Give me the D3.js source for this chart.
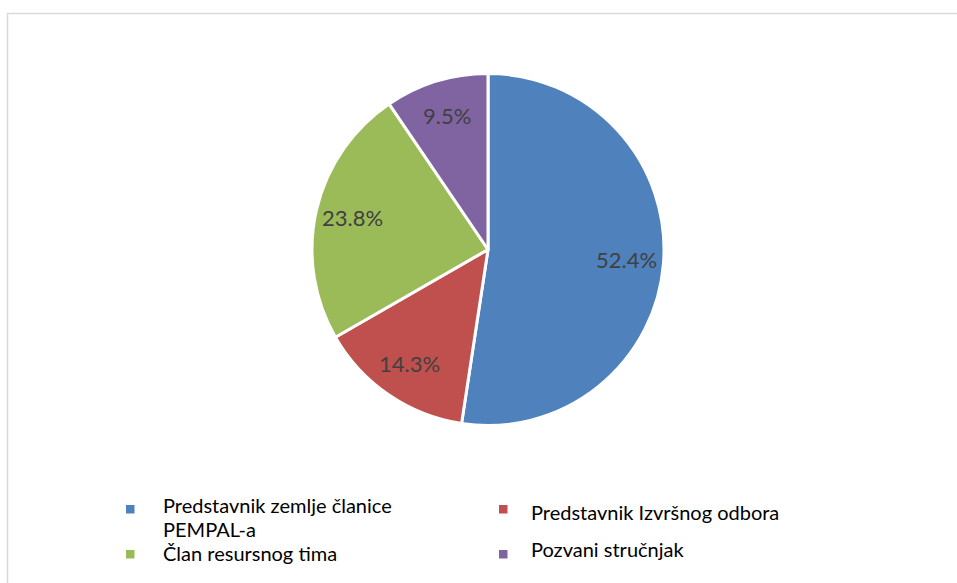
<!DOCTYPE html>
<html>
<head>
<meta charset="utf-8">
<script src="https://cdn.jsdelivr.net/npm/d3@7"></script>
<style>
  html, body { margin: 0; padding: 0; background: #fff; }
  svg { display: block; }
</style>
</head>
<body>
<svg id="chart" width="957" height="583"></svg>
<script>
// Data
const categories = [
  "Predstavnik zemlje članice PEMPAL-a",
  "Predstavnik Izvršnog odbora",
  "Član resursnog tima",
  "Pozvani stručnjak"
];
const values = [52.4, 14.3, 23.8, 9.5];
const colors = ["#4F81BD", "#C0504D", "#9BBB59", "#8064A2"];
const legendLines = [
  ["Predstavnik zemlje članice", "PEMPAL-a"],
  ["Predstavnik Izvršnog odbora"],
  ["Član resursnog tima"],
  ["Pozvani stručnjak"]
];

const svg = d3.select("#chart");
const W = 957, H = 583;

// frame
svg.append("rect")
  .attr("x", 7.5).attr("y", 13.5)
  .attr("width", W + 20).attr("height", H + 20)
  .attr("fill", "#fff")
  .attr("stroke", "#D9D9D9")
  .attr("stroke-width", 1.5);

const cx = 488, cy = 249.5, R = 176;
const g = svg.append("g").attr("transform", `translate(${cx},${cy})`);

const pie = d3.pie().sort(null).value(d => d);
const arcs = pie(values);
const arc = d3.arc().innerRadius(0).outerRadius(R);
const labelArc = d3.arc().innerRadius(139).outerRadius(139);

g.selectAll("path.slice")
  .data(arcs)
  .join("path")
  .attr("class", "slice")
  .attr("d", arc)
  .attr("fill", (d, i) => colors[i])
  .attr("stroke", "#fff")
  .attr("stroke-width", 3)
  .attr("stroke-linejoin", "round");

const fmt = d3.format(".1f");
g.selectAll("text.lbl")
  .data(arcs)
  .join("text")
  .attr("class", "lbl")
  .attr("transform", d => `translate(${labelArc.centroid(d)})`)
  .attr("text-anchor", "middle")
  .attr("dy", "0.35em")
  .attr("font-family", "Lato, 'Open Sans', sans-serif")
  .attr("font-size", 22)
  .attr("fill", "#404040")
  .text(d => fmt(d.data) + "%");

// Legend
const legendPos = [
  { sx: 126, sy: 505, tx: 163, ty: 513 },
  { sx: 499, sy: 505, tx: 531, ty: 520 },
  { sx: 126, sy: 550, tx: 163, ty: 561 },
  { sx: 499, sy: 550, tx: 531, ty: 557 }
];
const lg = svg.append("g");
categories.forEach((c, i) => {
  const p = legendPos[i];
  lg.append("rect")
    .attr("x", p.sx).attr("y", p.sy)
    .attr("width", 8.5).attr("height", 8.5)
    .attr("fill", colors[i]);
  const t = lg.append("text")
    .attr("x", p.tx).attr("y", p.ty)
    .attr("font-family", "Lato, 'Open Sans', sans-serif")
    .attr("font-size", 20)
    .attr("fill", "#000");
  legendLines[i].forEach((line, j) => {
    t.append("tspan").attr("x", p.tx).attr("dy", j === 0 ? 0 : 24).text(line);
  });
});
</script>
</body>
</html>
